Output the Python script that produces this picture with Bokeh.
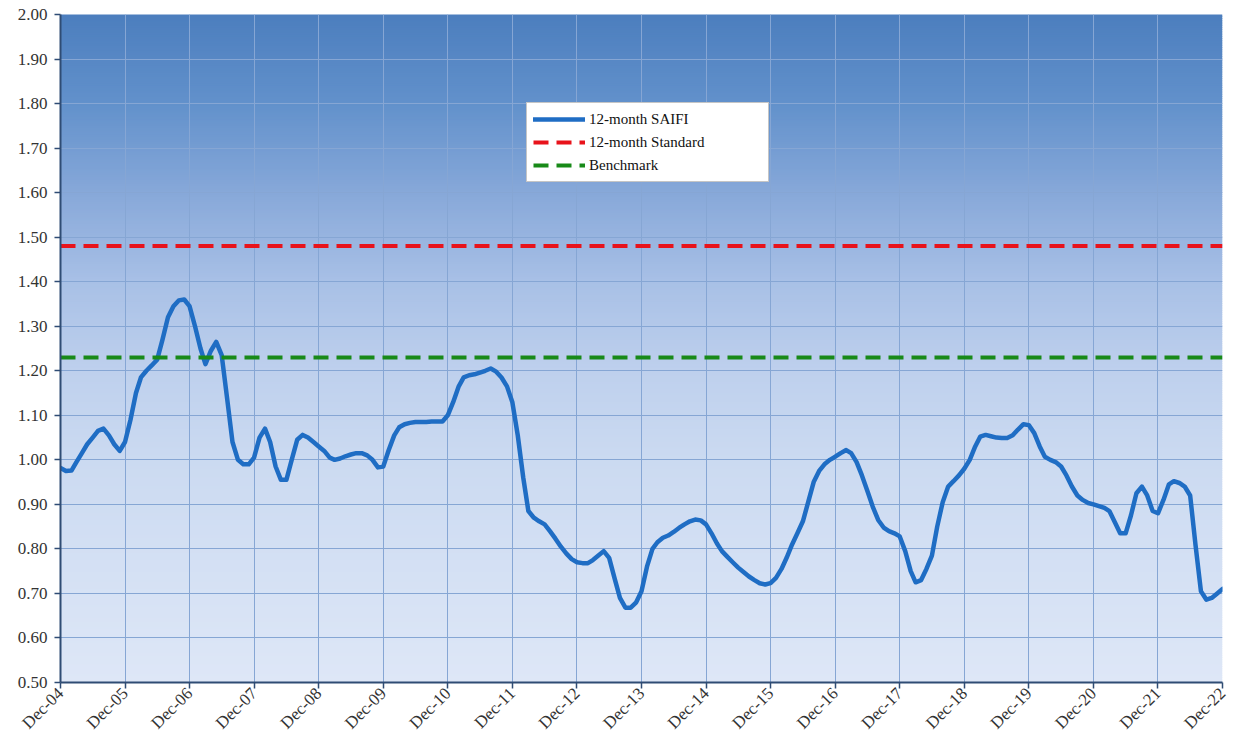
import numpy as np
import pandas as pd
from bokeh.plotting import figure
from bokeh.models import (FixedTicker, DatetimeTickFormatter, NumeralTickFormatter,
                          Range1d, Legend, LegendItem, ColumnDataSource)
from bokeh.embed import file_html
from bokeh.resources import INLINE
import math

# ---------------- data ----------------
first_month = "2004-12-01"
# monthly 12-month SAIFI, one row per year (Dec .. Nov)
saifi = [0.982, 0.975, 0.976, 0.995, 1.015, 1.035, 1.05, 1.065, 1.07, 1.055, 1.035, 1.02,
         1.04, 1.09, 1.15, 1.185, 1.20, 1.212, 1.225, 1.27, 1.32, 1.345, 1.358, 1.36,
         1.345, 1.30, 1.25, 1.215, 1.245, 1.265, 1.235, 1.14, 1.04, 1.0, 0.99, 0.99,
         1.005, 1.05, 1.07, 1.04, 0.985, 0.955, 0.955, 1.0, 1.045, 1.056, 1.05, 1.04,
         1.03, 1.02, 1.005, 1.0, 1.003, 1.008, 1.012, 1.015, 1.015, 1.01, 1.0, 0.983,
         0.985, 1.022, 1.055, 1.073, 1.08, 1.083, 1.085, 1.085, 1.085, 1.086, 1.086, 1.086,
         1.10, 1.13, 1.165, 1.185, 1.19, 1.192, 1.196, 1.20, 1.205, 1.198, 1.185, 1.165,
         1.13, 1.055, 0.96, 0.885, 0.87, 0.862, 0.855, 0.84, 0.823, 0.805, 0.79, 0.777,
         0.77, 0.768, 0.768, 0.775, 0.785, 0.795, 0.78, 0.735, 0.69, 0.668, 0.668, 0.68,
         0.705, 0.76, 0.80, 0.815, 0.825, 0.83, 0.838, 0.847, 0.855, 0.862, 0.866, 0.864,
         0.855, 0.835, 0.812, 0.795, 0.782, 0.77, 0.758, 0.748, 0.738, 0.73, 0.723, 0.72,
         0.723, 0.735, 0.755, 0.78, 0.81, 0.835, 0.862, 0.905, 0.95, 0.975, 0.99, 1.0,
         1.007, 1.015, 1.022, 1.015, 0.995, 0.965, 0.93, 0.895, 0.865, 0.848, 0.84, 0.835,
         0.828, 0.795, 0.75, 0.725, 0.73, 0.755, 0.785, 0.85, 0.905, 0.94, 0.952, 0.965,
         0.98, 1.0, 1.03, 1.052, 1.056, 1.053, 1.05, 1.049, 1.049, 1.055, 1.068, 1.08,
         1.078, 1.06, 1.03, 1.007, 1.0, 0.995, 0.985, 0.965, 0.94, 0.92, 0.91, 0.903,
         0.9, 0.896, 0.892, 0.885, 0.86, 0.835, 0.835, 0.875, 0.925, 0.94, 0.92, 0.885,
         0.88, 0.91, 0.945, 0.952, 0.948, 0.94, 0.92, 0.81, 0.705, 0.686, 0.69, 0.70,
         0.71]
standard_value = 1.48
benchmark_value = 1.23
tick_years = list(range(2004, 2023))
y_ticks = [0.5, 0.6, 0.7, 0.8, 0.9, 1.0, 1.1, 1.2, 1.3, 1.4, 1.5, 1.6, 1.7, 1.8, 1.9, 2.0]

# ---------------- helpers ----------------
def to_ms(ts):
    return (pd.Timestamp(ts) - pd.Timestamp("1970-01-01")) / pd.Timedelta(milliseconds=1)

dates = pd.date_range(first_month, periods=len(saifi), freq="MS")
x_start = to_ms("2004-12-01")
x_end = to_ms("2022-12-01")
dec_ticks = [to_ms(f"{y}-12-01") for y in tick_years]

p = figure(width=1233, height=742, x_axis_type="datetime",
           x_range=Range1d(x_start, x_end), y_range=Range1d(0.5, 2.0),
           output_backend="svg", toolbar_location=None,
           min_border_left=60, min_border_right=11, min_border_top=14, min_border_bottom=59)
p.outline_line_color = None
p.background_fill_color = "white"
p.border_fill_color = "white"

# gradient background (decoration)
stops_v = [0.5, 1.0, 1.2, 1.4, 1.6, 1.8, 2.0]
stops_c = [(222, 231, 247), (203, 218, 241), (190, 208, 237), (168, 192, 230),
           (135, 168, 217), (98, 145, 203), (76, 126, 190)]
nb = 300
edges = np.linspace(0.5, 2.0, nb + 1)
mids = (edges[:-1] + edges[1:]) / 2
cols = []
for m in mids:
    r = int(round(np.interp(m, stops_v, [c[0] for c in stops_c])))
    g = int(round(np.interp(m, stops_v, [c[1] for c in stops_c])))
    b = int(round(np.interp(m, stops_v, [c[2] for c in stops_c])))
    cols.append("#%02x%02x%02x" % (r, g, b))
p.quad(left=x_start, right=x_end, bottom=edges[:-1], top=edges[1:] + 0.002,
       fill_color=cols, line_color=None, level="image")

# grid
p.xgrid.ticker = FixedTicker(ticks=dec_ticks)
p.ygrid.ticker = FixedTicker(ticks=y_ticks)
p.xgrid.grid_line_color = "#86a6d4"
p.ygrid.grid_line_color = "#86a6d4"
p.xgrid.grid_line_width = 1
p.ygrid.grid_line_width = 1

# series
src = ColumnDataSource(dict(x=dates, y=saifi))
r_saifi = p.line("x", "y", source=src, line_color="#1f6dc4", line_width=4.5,
                 line_join="round", line_cap="round")
r_std = p.line([x_start, x_end], [standard_value, standard_value], line_color="#e8131b",
               line_width=4, line_dash="15 8")
r_bm = p.line([x_start, x_end], [benchmark_value, benchmark_value], line_color="#188a18",
              line_width=4, line_dash="15 8")

# axes
font = "Liberation Serif"
p.xaxis.ticker = FixedTicker(ticks=dec_ticks)
fmt = "%b-%y"
p.xaxis.formatter = DatetimeTickFormatter(milliseconds=fmt, seconds=fmt, minsec=fmt, minutes=fmt,
                                          hourmin=fmt, hours=fmt, days=fmt, months=fmt, years=fmt)
p.xaxis.major_label_orientation = math.pi / 4
p.yaxis.ticker = FixedTicker(ticks=y_ticks)
p.yaxis.formatter = NumeralTickFormatter(format="0.00")
for ax in (p.xaxis[0], p.yaxis[0]):
    ax.axis_line_color = "#2f4c74"
    ax.axis_line_width = 2
    ax.major_tick_line_color = "#2f4c74"
    ax.major_tick_line_width = 1.5
    ax.major_tick_in = 0
    ax.major_tick_out = 6
    ax.minor_tick_line_color = None
    ax.major_label_text_font = font
    ax.major_label_text_font_size = "17px"
    ax.major_label_text_color = "#333333"
p.yaxis.major_label_standoff = 7
p.xaxis.major_label_standoff = 2

# legend
legend = Legend(items=[LegendItem(label="12-month SAIFI", renderers=[r_saifi]),
                       LegendItem(label="12-month Standard", renderers=[r_std]),
                       LegendItem(label="Benchmark", renderers=[r_bm])],
                location=(466, 500), orientation="vertical")
legend.label_text_font = font
legend.label_text_font_size = "15px"
legend.label_text_color = "#111111"
legend.glyph_width = 52
legend.glyph_height = 20
legend.label_height = 20
legend.label_width = 173
legend.spacing = 3
legend.padding = 6
legend.margin = 0
legend.label_standoff = 4
legend.border_line_color = "#8c8c8c"
legend.border_line_width = 1
legend.background_fill_color = "white"
legend.background_fill_alpha = 1.0
p.add_layout(legend, "center")

open("out.html", "w").write(file_html(p, INLINE))
